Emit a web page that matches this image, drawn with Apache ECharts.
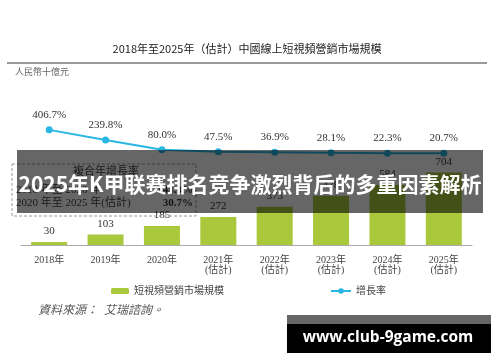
<!DOCTYPE html>
<html><head><meta charset="utf-8">
<script src="https://cdn.jsdelivr.net/npm/echarts@6/dist/echarts.min.js"></script>
<style>html,body{margin:0;padding:0;background:#fff}#c{width:500px;height:362px}</style>
</head><body><div id="c"></div>
<script>
const categories = ['2018年','2019年','2020年','2021年\n(估計)','2022年\n(估計)','2023年\n(估計)','2024年\n(估計)','2025年\n(估計)'];
const marketSize = [30, 103, 185, 272, 373, 478, 584, 704];
const growthRate = [406.7, 239.8, 80.0, 47.5, 36.9, 28.1, 22.3, 20.7];
const cagrPeriods = ['2018 年至 2020 年', '2020 年至 2025 年(估計)'];
const cagrValues = ['148.3%', '30.7%'];
const titleText = '2018年至2025年（估計）中國線上短視頻營銷市場規模';
const unitText = '人民幣十億元';
const seriesNames = ['短視頻營銷市場規模', '增長率'];
const sourceText = '資料來源：  艾瑞諮詢。';
const bannerText = '2025年K甲联赛排名竞争激烈背后的多重因素解析';
const watermarkText = 'www.club-9game.com';

const serif = '"Liberation Serif","Noto Sans CJK TC",serif';
const sans = '"Noto Sans CJK TC","Noto Sans",sans-serif';
const chart = echarts.init(document.getElementById('c'));
chart.setOption({
  animation: false,
  grid: {left: 21, right: 28, top: 65, bottom: 117},
  legend: [
    {data: [seriesNames[0]], left: 106, top: 281, itemWidth: 18, itemHeight: 6,
     textStyle: {fontSize: 10, color: '#444', fontFamily: serif}},
    {data: [seriesNames[1]], left: 325, top: 281, itemWidth: 20, itemHeight: 7,
     textStyle: {fontSize: 10, color: '#444', fontFamily: serif}}
  ],
  xAxis: {
    type: 'category', data: categories,
    axisLine: {lineStyle: {color: '#aaa', width: 1}},
    axisTick: {show: false},
    axisLabel: {fontSize: 10, lineHeight: 10, margin: 10, color: '#444', fontFamily: serif, interval: 0}
  },
  yAxis: [
    {type: 'value', min: 0, max: 1750, show: false, splitLine: {show: false}},
    {type: 'value', min: -1493, max: 1477, show: false, splitLine: {show: false}}
  ],
  series: [
    {name: seriesNames[0], type: 'bar', data: marketSize, barWidth: 36,
     itemStyle: {color: '#a9c83c'},
     label: {show: true, position: 'top', distance: 5, fontSize: 11, color: '#333', fontFamily: serif}},
    {name: seriesNames[1], type: 'line', yAxisIndex: 1, data: growthRate,
     symbol: 'circle', symbolSize: 7,
     lineStyle: {color: '#29b6e3', width: 2}, itemStyle: {color: '#29b6e3'},
     label: {show: true, position: 'top', distance: 6, fontSize: 11, color: '#333', fontFamily: serif,
       formatter: p => p.value.toFixed(1) + '%'}}
  ],
  graphic: [
    {type: 'text', x: 247, y: 49, z: 50, style: {text: titleText, fill: '#222', font: '11px ' + sans, textAlign: 'center', textVerticalAlign: 'middle'}},
    {type: 'line', z: 50, shape: {x1: 7, y1: 63, x2: 487, y2: 63}, style: {stroke: '#999', lineWidth: 2}},
    {type: 'text', x: 15, y: 73, z: 50, style: {text: unitText, fill: '#666', font: '9px ' + serif, textAlign: 'left', textVerticalAlign: 'middle'}},
    {type: 'rect', z: 50, shape: {x: 12, y: 164, width: 184, height: 52}, style: {fill: 'none', stroke: '#999', lineWidth: 1, lineDash: [3, 2]}},
    {type: 'text', x: 106, y: 172, z: 50, style: {text: '複合年增長率', fill: '#444', font: '11px ' + serif, textAlign: 'center', textVerticalAlign: 'middle'}},
    {type: 'text', x: 16, y: 190, z: 50, style: {text: cagrPeriods[0], fill: '#444', font: '11px ' + serif, textAlign: 'left', textVerticalAlign: 'middle'}},
    {type: 'text', x: 193, y: 190, z: 50, style: {text: cagrValues[0], fill: '#333', font: 'bold 11px ' + serif, textAlign: 'right', textVerticalAlign: 'middle'}},
    {type: 'text', x: 16, y: 203, z: 50, style: {text: cagrPeriods[1], fill: '#444', font: '11px ' + serif, textAlign: 'left', textVerticalAlign: 'middle'}},
    {type: 'text', x: 193, y: 203, z: 50, style: {text: cagrValues[1], fill: '#333', font: 'bold 11px ' + serif, textAlign: 'right', textVerticalAlign: 'middle'}},
    {type: 'text', x: 38, y: 311, z: 50, style: {text: sourceText, fill: '#555', font: 'italic 12px ' + serif, textAlign: 'left', textVerticalAlign: 'middle'}},
    {type: 'rect', z: 100, shape: {x: 17, y: 150, width: 466, height: 63}, style: {fill: 'rgba(0,0,0,0.6)'}},
    {type: 'text', x: 250, y: 184, z: 101, style: {text: bannerText, fill: '#fff', font: 'bold 21px "Noto Sans CJK SC",sans-serif', textAlign: 'center', textVerticalAlign: 'middle'}},
    {type: 'rect', z: 100, shape: {x: 287, y: 315, width: 204, height: 9}, style: {fill: '#666'}},
    {type: 'rect', z: 100, shape: {x: 287, y: 324, width: 204, height: 29}, style: {fill: '#000'}},
    {type: 'text', x: 388, y: 338, z: 101, style: {text: watermarkText, fill: '#fff', font: 'bold 15.5px "Open Sans","Noto Sans",sans-serif', textAlign: 'center', textVerticalAlign: 'middle'}}
  ]
});
</script></body></html>
